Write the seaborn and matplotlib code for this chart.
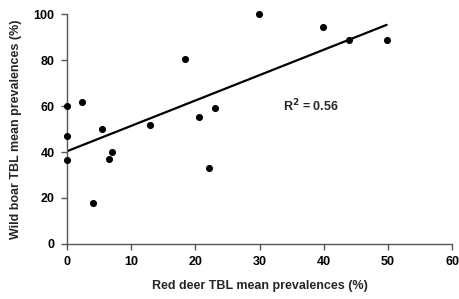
import numpy as np
import pandas as pd
import seaborn as sns
import matplotlib.pyplot as plt

# Values
red_deer = [0, 0, 0, 2.3, 4.0, 5.5, 6.5, 7.0, 13.0, 18.4, 20.6, 22.1, 23.0, 29.9, 39.9, 43.9, 49.8]
wild_boar = [60.0, 47.0, 36.5, 61.7, 18.0, 50.0, 37.0, 40.0, 51.7, 80.4, 55.2, 33.0, 59.0, 100.0, 94.3, 88.7, 88.7]
x_ticks = [0, 10, 20, 30, 40, 50, 60]
y_ticks = [0, 20, 40, 60, 80, 100]

df = pd.DataFrame({'red_deer': red_deer, 'wild_boar': wild_boar})

sns.set_style('white')
plt.rcParams['font.family'] = ['Liberation Sans', 'DejaVu Sans']
plt.rcParams['font.weight'] = 'bold'

fig = plt.figure(figsize=(4.59, 2.99), dpi=100)
ax = fig.add_axes([0.146, 0.184, 0.839, 0.769])

sns.regplot(data=df, x='red_deer', y='wild_boar', ci=None, ax=ax,
            scatter_kws={'s': 26, 'color': 'black', 'linewidths': 0,
                         'alpha': 1, 'clip_on': False, 'zorder': 3},
            line_kws={'color': 'black', 'lw': 1.6})

ax.set_xlim(0, 60)
ax.set_ylim(0, 100)
ax.set_xticks(x_ticks)
ax.set_yticks(y_ticks)
ax.tick_params(axis='both', direction='out', length=4, width=1, color='#555555',
               labelcolor='black', labelsize=9, pad=5, bottom=True, left=True)
for lab in ax.get_xticklabels() + ax.get_yticklabels():
    lab.set_fontweight('bold')

for side in ['top', 'right']:
    ax.spines[side].set_visible(False)
for side in ['left', 'bottom']:
    ax.spines[side].set_color('#555555')
    ax.spines[side].set_linewidth(1)

ax.set_xlabel('Red deer TBL mean prevalences (%)', fontsize=9, fontweight='bold', labelpad=8)
ax.set_ylabel('Wild boar TBL mean prevalences (%)', fontsize=9, fontweight='bold', labelpad=8)

ax.text(33.6, 60, 'R$^\\mathbf{2}$ = 0.56', fontsize=9, fontweight='bold', va='center', ha='left')

fig.savefig('out.png', dpi=100)
plt.close(fig)
